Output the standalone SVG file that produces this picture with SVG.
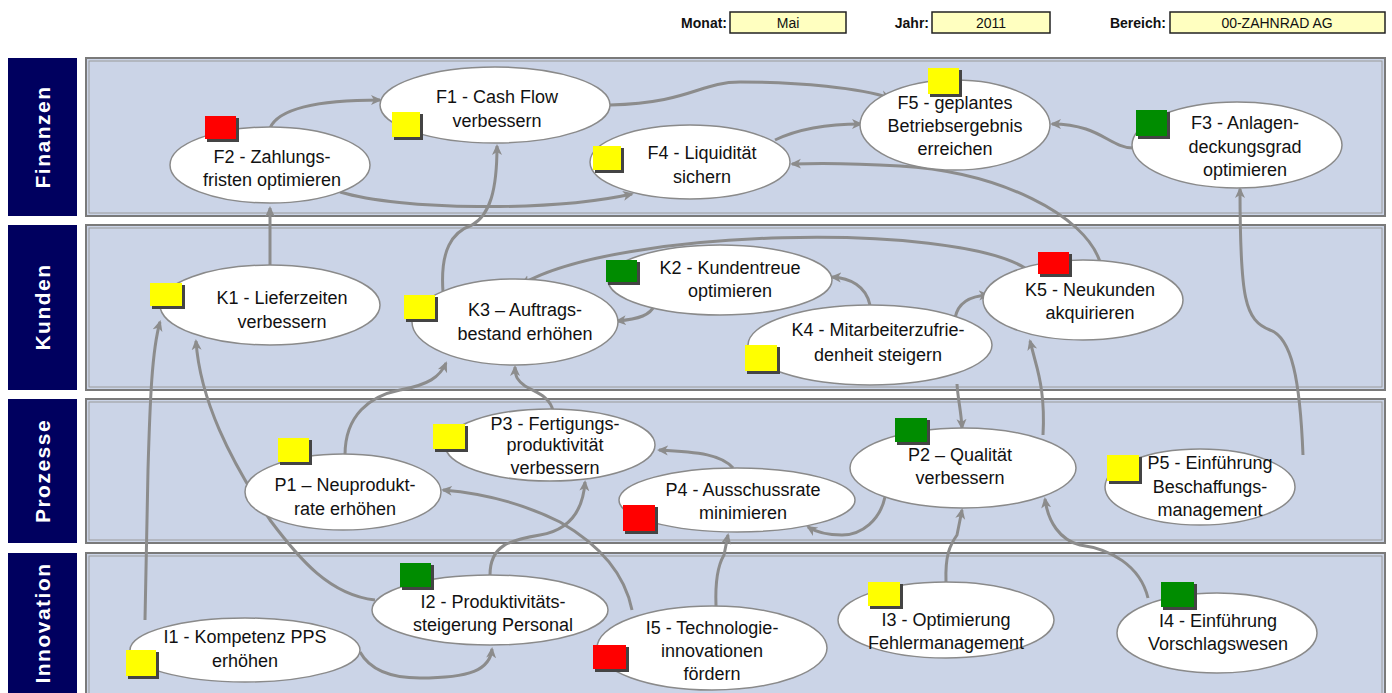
<svg xmlns="http://www.w3.org/2000/svg" width="1392" height="693" viewBox="0 0 1392 693">
<style>
.lane{fill:#CBD4E7;stroke:#7a7a7a;stroke-width:2}
.lane2{fill:none;stroke:#9a9a9a;stroke-width:1}
.lbl{fill:#00005F}
.lt{font-family:"Liberation Sans",Arial,sans-serif;font-weight:bold;font-size:21px;fill:#fff;text-anchor:middle;letter-spacing:1.5px}
.nd{fill:#fff;stroke:#8a8a8a;stroke-width:1.5}
.t{font-family:"Liberation Sans",Arial,sans-serif;font-size:18px;fill:#111;text-anchor:middle}
.hl{font-family:"Liberation Sans",Arial,sans-serif;font-size:14px;font-weight:bold;fill:#111;text-anchor:end}
.hv{font-family:"Liberation Sans",Arial,sans-serif;font-size:14px;fill:#111;text-anchor:middle}
.hb{fill:#FFFFC0;stroke:#222;stroke-width:1.5}
.sh{fill:#444}
.y{fill:#FFFF00}
.r{fill:#FF0000}
.g{fill:#008C00}
.c{fill:none;stroke:#8c8c8c;stroke-width:3;marker-end:url(#ah)}
</style>
<defs>
<marker id="ah" markerWidth="12" markerHeight="12" refX="9" refY="6" orient="auto" markerUnits="userSpaceOnUse">
<path d="M0,1 L11,6 L0,11 L3,6 Z" fill="#8c8c8c"/>
</marker>
</defs>
<rect width="1392" height="693" fill="#fff"/>
<g id="header">
<text class="hl" x="727" y="28">Monat:</text>
<rect class="hb" x="730" y="12" width="116" height="21"/>
<text class="hv" x="788" y="28">Mai</text>
<text class="hl" x="929" y="28">Jahr:</text>
<rect class="hb" x="932" y="12" width="118" height="21"/>
<text class="hv" x="991" y="28">2011</text>
<text class="hl" x="1166" y="28">Bereich:</text>
<rect class="hb" x="1170" y="12" width="215" height="21"/>
<text class="hv" x="1277" y="28">00-ZAHNRAD AG</text>
</g>
<g id="lanes">
<rect class="lbl" x="8" y="58" width="69" height="158"/>
<rect class="lane" x="86" y="58" width="1299" height="158"/>
<rect class="lane2" x="89" y="61" width="1293" height="152"/>
<text class="lt" transform="translate(50,137) rotate(-90)">Finanzen</text>
<rect class="lbl" x="8" y="225" width="69" height="165"/>
<rect class="lane" x="86" y="225" width="1299" height="165"/>
<rect class="lane2" x="89" y="228" width="1293" height="159"/>
<text class="lt" transform="translate(50,307) rotate(-90)">Kunden</text>
<rect class="lbl" x="8" y="399" width="69" height="144"/>
<rect class="lane" x="86" y="399" width="1299" height="144"/>
<rect class="lane2" x="89" y="402" width="1293" height="138"/>
<text class="lt" transform="translate(50,471) rotate(-90)">Prozesse</text>
<rect class="lbl" x="8" y="553" width="69" height="145"/>
<rect class="lane" x="86" y="553" width="1299" height="145"/>
<rect class="lane2" x="89" y="556" width="1293" height="140"/>
<text class="lt" transform="translate(50,623) rotate(-90)">Innovation</text>
</g>
<g id="connectors">
<path class="c" d="M270 128 C280 105 330 100 380 100"/>
<path class="c" d="M340 192 C400 210 550 212 632 194"/>
<path class="c" d="M610 105 C690 103 700 82 740 82 C800 82 860 88 890 98"/>
<path class="c" d="M775 140 C800 128 830 124 861 124"/>
<path class="c" d="M1133 148 C1110 148 1100 124 1052 124"/>
<path class="c" d="M270 265 L270 208"/>
<path class="c" d="M443 292 C440 250 452 232 472 225 C490 215 497 190 497 146"/>
<path class="c" d="M1100 262 C1085 215 1000 172 900 166 C850 163 820 163 792 164"/>
<path class="c" d="M1303 455 C1300 380 1292 338 1270 330 C1245 320 1240 300 1240 189"/>
<path class="c" d="M1025 268 C950 222 620 228 522 284"/>
<path class="c" d="M655 305 C650 315 640 319 617 321"/>
<path class="c" d="M870 305 C866 286 850 278 832 277"/>
<path class="c" d="M955 318 C958 302 970 296 988 295"/>
<path class="c" d="M957 384 C958 400 961 410 962 428"/>
<path class="c" d="M1043 435 C1045 400 1040 378 1035 360 L1030 341"/>
<path class="c" d="M345 455 C345 415 370 396 400 390 C428 385 440 377 446 363"/>
<path class="c" d="M553 411 C550 396 535 392 525 386 C518 381 515 377 515 367"/>
<path class="c" d="M733 468 C722 455 700 452 659 450"/>
<path class="c" d="M885 497 C880 520 862 535 842 535 C826 535 816 532 808 527"/>
<path class="c" d="M490 575 C490 545 510 540 540 535 C570 530 583 510 585 482"/>
<path class="c" d="M632 610 C625 575 600 545 560 522 C520 502 480 493 443 490"/>
<path class="c" d="M375 600 C330 595 300 560 270 520 C230 460 200 400 196 341"/>
<path class="c" d="M145 620 L148 470 C150 400 152 350 160 322"/>
<path class="c" d="M360 652 C370 670 390 678 420 678 C470 678 490 670 492 649"/>
<path class="c" d="M716 606 C715 580 718 565 724 555 L728 535"/>
<path class="c" d="M946 582 C945 555 950 545 957 535 L962 510"/>
<path class="c" d="M1148 598 C1140 565 1110 549 1080 545 C1060 540 1048 522 1045 499"/>
</g>
<g id="F1"><ellipse class="nd" cx="495" cy="105" rx="115" ry="38"/><rect class="sh" x="394" y="114" width="29" height="26"/><rect class="y" x="392" y="112" width="28" height="25"/><text class="t" x="497" y="103">F1 - Cash Flow</text><text class="t" x="497" y="127">verbessern</text></g>
<g id="F2"><ellipse class="nd" cx="270" cy="165" rx="100" ry="38"/><rect class="sh" x="207" y="118" width="32" height="24"/><rect class="r" x="205" y="116" width="31" height="23"/><text class="t" x="272" y="163">F2 - Zahlungs-</text><text class="t" x="272" y="186">fristen optimieren</text></g>
<g id="F4"><ellipse class="nd" cx="690" cy="162" rx="100" ry="37"/><rect class="sh" x="595" y="148" width="29" height="25"/><rect class="y" x="593" y="146" width="28" height="24"/><text class="t" x="702" y="159">F4 - Liquidität</text><text class="t" x="702" y="183">sichern</text></g>
<g id="F5"><ellipse class="nd" cx="955" cy="125" rx="95" ry="45"/><rect class="sh" x="930" y="70" width="32" height="27"/><rect class="y" x="928" y="68" width="31" height="26"/><text class="t" x="955" y="109">F5 - geplantes</text><text class="t" x="955" y="132">Betriebsergebnis</text><text class="t" x="955" y="155">erreichen</text></g>
<g id="F3"><ellipse class="nd" cx="1237" cy="145" rx="105" ry="43"/><rect class="sh" x="1138" y="112" width="32" height="27"/><rect class="g" x="1136" y="110" width="31" height="26"/><text class="t" x="1245" y="129">F3 - Anlagen-</text><text class="t" x="1245" y="153">deckungsgrad</text><text class="t" x="1245" y="176">optimieren</text></g>
<g id="K1"><ellipse class="nd" cx="270" cy="305" rx="110" ry="40"/><rect class="sh" x="152" y="285" width="33" height="24"/><rect class="y" x="150" y="283" width="32" height="23"/><text class="t" x="282" y="304">K1 - Lieferzeiten</text><text class="t" x="282" y="328">verbessern</text></g>
<g id="K3"><ellipse class="nd" cx="515" cy="322" rx="103" ry="43"/><rect class="sh" x="406" y="297" width="32" height="25"/><rect class="y" x="404" y="295" width="31" height="24"/><text class="t" x="525" y="316">K3 – Auftrags-</text><text class="t" x="525" y="340">bestand erhöhen</text></g>
<g id="K2"><ellipse class="nd" cx="720" cy="280" rx="112" ry="35"/><rect class="sh" x="608" y="262" width="32" height="23"/><rect class="g" x="606" y="260" width="31" height="22"/><text class="t" x="730" y="274">K2 - Kundentreue</text><text class="t" x="730" y="297">optimieren</text></g>
<g id="K4"><ellipse class="nd" cx="870" cy="345" rx="122" ry="40"/><rect class="sh" x="747" y="347" width="33" height="27"/><rect class="y" x="745" y="345" width="32" height="26"/><text class="t" x="878" y="336">K4 - Mitarbeiterzufrie-</text><text class="t" x="878" y="361">denheit steigern</text></g>
<g id="K5"><ellipse class="nd" cx="1083" cy="300" rx="100" ry="40"/><rect class="sh" x="1040" y="254" width="32" height="23"/><rect class="r" x="1038" y="252" width="31" height="22"/><text class="t" x="1090" y="296">K5 - Neukunden</text><text class="t" x="1090" y="319">akquirieren</text></g>
<g id="P1"><ellipse class="nd" cx="343" cy="492" rx="98" ry="38"/><rect class="sh" x="280" y="440" width="32" height="25"/><rect class="y" x="278" y="438" width="31" height="24"/><text class="t" x="345" y="491">P1 – Neuprodukt-</text><text class="t" x="345" y="515">rate erhöhen</text></g>
<g id="P3"><ellipse class="nd" cx="550" cy="445" rx="105" ry="36"/><rect class="sh" x="435" y="426" width="33" height="26"/><rect class="y" x="433" y="424" width="32" height="25"/><text class="t" x="555" y="430">P3 - Fertigungs-</text><text class="t" x="555" y="451">produktivität</text><text class="t" x="555" y="474">verbessern</text></g>
<g id="P4"><ellipse class="nd" cx="737" cy="500" rx="118" ry="32"/><rect class="sh" x="625" y="507" width="33" height="27"/><rect class="r" x="623" y="505" width="32" height="26"/><text class="t" x="743" y="496">P4 - Ausschussrate</text><text class="t" x="743" y="519">minimieren</text></g>
<g id="P2"><ellipse class="nd" cx="963" cy="468" rx="113" ry="40"/><rect class="sh" x="897" y="420" width="33" height="25"/><rect class="g" x="895" y="418" width="32" height="24"/><text class="t" x="960" y="461">P2 – Qualität</text><text class="t" x="960" y="484">verbessern</text></g>
<g id="P5"><ellipse class="nd" cx="1200" cy="487" rx="95" ry="38"/><rect class="sh" x="1109" y="457" width="33" height="27"/><rect class="y" x="1107" y="455" width="32" height="26"/><text class="t" x="1210" y="469">P5 - Einführung</text><text class="t" x="1210" y="493">Beschaffungs-</text><text class="t" x="1210" y="516">management</text></g>
<g id="I1"><ellipse class="nd" cx="245" cy="650" rx="115" ry="32"/><rect class="sh" x="128" y="652" width="31" height="27"/><rect class="y" x="126" y="650" width="30" height="26"/><text class="t" x="245" y="643">I1 - Kompetenz PPS</text><text class="t" x="245" y="667">erhöhen</text></g>
<g id="I2"><ellipse class="nd" cx="490" cy="610" rx="118" ry="35"/><rect class="sh" x="402" y="565" width="32" height="25"/><rect class="g" x="400" y="563" width="31" height="24"/><text class="t" x="493" y="608">I2 - Produktivitäts-</text><text class="t" x="493" y="631">steigerung Personal</text></g>
<g id="I5"><ellipse class="nd" cx="712" cy="648" rx="115" ry="42"/><rect class="sh" x="595" y="647" width="34" height="25"/><rect class="r" x="593" y="645" width="33" height="24"/><text class="t" x="712" y="634">I5 - Technologie-</text><text class="t" x="712" y="657">innovationen</text><text class="t" x="712" y="680">fördern</text></g>
<g id="I3"><ellipse class="nd" cx="946" cy="620" rx="108" ry="38"/><rect class="sh" x="870" y="584" width="33" height="25"/><rect class="y" x="868" y="582" width="32" height="24"/><text class="t" x="946" y="626">I3 - Optimierung</text><text class="t" x="946" y="649">Fehlermanagement</text></g>
<g id="I4"><ellipse class="nd" cx="1217" cy="633" rx="100" ry="40"/><rect class="sh" x="1163" y="584" width="34" height="26"/><rect class="g" x="1161" y="582" width="33" height="25"/><text class="t" x="1218" y="627">I4 - Einführung</text><text class="t" x="1218" y="650">Vorschlagswesen</text></g>
</svg>
